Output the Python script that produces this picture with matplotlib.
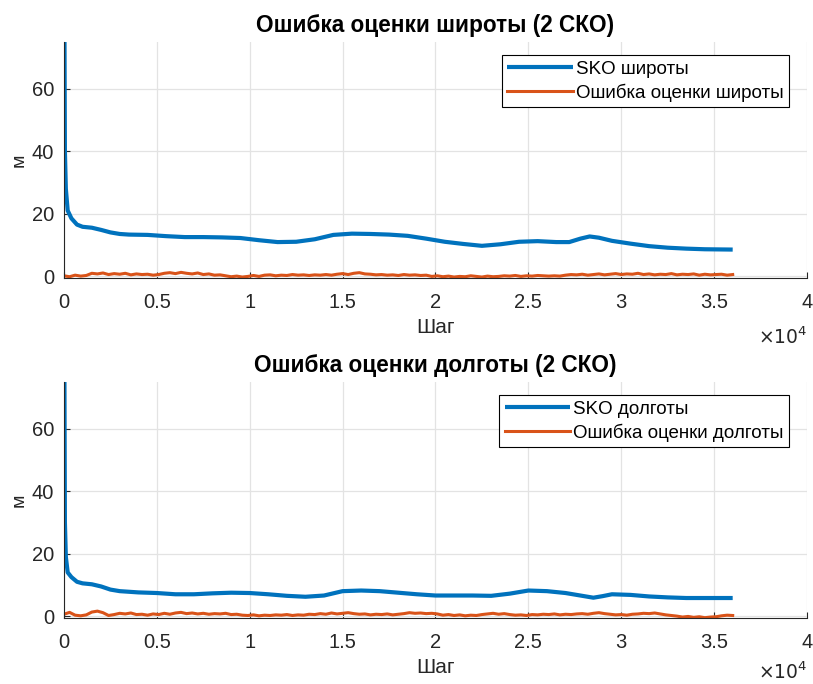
import numpy as np
import matplotlib
matplotlib.use("Agg")
import matplotlib.pyplot as plt
from matplotlib.ticker import FuncFormatter

plt.rcParams['font.family'] = ['Liberation Sans', 'DejaVu Sans']

## SKO curves: (step, value) pairs
sko_lat_x = [0, 50, 100, 200, 400, 700, 1000, 1500, 2000, 2500, 3000, 3500, 4500, 5500,
             6500, 7500, 8500, 9500, 10500, 11500, 12500, 13500, 14500, 15500, 16500,
             17500, 18500, 19500, 20500, 21500, 22500, 23500, 24500, 25500, 26500,
             27200, 27800, 28300, 28800, 29500, 30500, 31500, 32500, 33500, 34500, 36000]
sko_lat_y = [120, 40, 28, 21, 18.5, 16.5, 15.8, 15.5, 14.8, 14.0, 13.5, 13.3, 13.2, 12.8,
             12.5, 12.5, 12.4, 12.2, 11.5, 10.9, 11.0, 11.8, 13.2, 13.6, 13.5,
             13.3, 12.9, 12.0, 11.0, 10.3, 9.7, 10.2, 11.0, 11.2, 10.9,
             10.9, 12.0, 12.7, 12.3, 11.3, 10.4, 9.6, 9.1, 8.8, 8.6, 8.5]

sko_lon_x = [0, 50, 100, 200, 400, 700, 1000, 1500, 2000, 2500, 3000, 4000, 5000, 6000,
             7000, 8000, 9000, 10000, 11000, 12000, 13000, 14000, 15000, 16000, 17000,
             18000, 19000, 20000, 21000, 22000, 23000, 24000, 25000, 26000, 27000,
             28000, 28500, 29000, 29500, 30500, 31500, 32500, 33500, 34500, 36000]
sko_lon_y = [120, 30, 19, 14, 12.5, 11.0, 10.5, 10.2, 9.5, 8.5, 8.0, 7.6, 7.4, 7.0,
             7.0, 7.3, 7.5, 7.4, 7.0, 6.5, 6.2, 6.6, 8.0, 8.2, 8.0,
             7.5, 7.0, 6.6, 6.6, 6.6, 6.5, 7.2, 8.2, 8.0, 7.4,
             6.4, 5.9, 6.4, 7.0, 6.8, 6.3, 6.0, 5.8, 5.8, 5.8]

## Estimation errors, one value every 300 steps from 0 to 36000
err_lat = [0.1, -0.2, 0.3, 0.0, 0.2, 0.9, 0.7, 1.0, 0.5, 0.8, 0.6, 0.9, 0.4, 0.7, 0.5,
           0.6, 0.3, 0.5, 0.9, 1.1, 0.8, 1.2, 0.9, 0.7, 1.0, 0.5, 0.7, 0.3, 0.4, 0.1,
           -0.2, 0.0, -0.3, -0.1, 0.2, -0.1, 0.3, 0.4, 0.1, 0.3, 0.2, 0.5, 0.3, 0.4, 0.2,
           0.4, 0.3, 0.5, 0.3, 0.6, 0.8, 0.5, 0.9, 1.1, 0.7, 0.6, 0.4, 0.5, 0.3, 0.4,
           0.2, 0.5, 0.3, 0.4, 0.2, 0.3, -0.1, 0.1, -0.2, 0.0, -0.3, -0.1, -0.2, 0.1, -0.1,
           -0.3, 0.0, -0.2, -0.1, 0.1, 0.0, 0.2, -0.1, 0.1, 0.0, 0.2, 0.1, 0.0, 0.1, 0.0,
           0.3, 0.5, 0.4, 0.6, 0.3, 0.5, 0.7, 0.4, 0.6, 0.8, 0.5, 0.7, 0.6, 0.9, 0.5,
           0.7, 0.4, 0.6, 0.5, 0.8, 0.4, 0.6, 0.5, 0.7, 0.3, 0.6, 0.4, 0.5, 0.6, 0.3, 0.5]
err_lon = [0.6, 1.2, 0.3, 0.1, 0.4, 1.3, 1.6, 1.1, 0.2, 0.5, 0.9, 0.7, 1.0, 0.5, 0.6,
           0.3, 0.7, 0.5, 0.9, 0.6, 1.0, 1.2, 0.8, 1.0, 0.7, 0.9, 0.6, 0.8, 0.7, 0.9,
           0.5, 0.6, 0.3, 0.2, 0.4, 0.1, 0.3, 0.2, 0.4, 0.3, 0.5, 0.2, 0.4, 0.3, 0.6,
           0.5, 0.8, 0.6, 1.0, 0.7, 0.9, 1.1, 0.8, 0.6, 0.7, 0.4, 0.6, 0.5, 0.7, 0.4,
           0.6, 0.8, 1.1, 0.9, 1.0, 0.8, 0.9, 0.7, 0.3, 0.5, 0.2, 0.4, 0.1, 0.3, 0.2,
           0.5, 0.7, 0.9, 0.6, 0.8, 0.5, 0.3, 0.4, 0.2, 0.5, 0.4, 0.6, 0.5, 0.7, 0.4,
           0.6, 0.5, 0.7, 0.8, 0.6, 0.9, 1.1, 0.8, 0.6, 0.4, 0.5, 0.3, 0.6, 0.7, 0.9,
           0.8, 1.0, 0.7, 0.4, 0.2, 0.0, -0.3, -0.1, -0.4, -0.2, -0.5, -0.3, -0.2, 0.1, 0.3, 0.2]
err_x = np.arange(len(err_lat)) * 300

BLUE = '#0072BD'
ORANGE = '#D95319'
TXT = '#262626'

fig = plt.figure(figsize=(8.13, 6.84), dpi=100)
ax1 = fig.add_axes([0.0787, 0.5936, 0.9139, 0.345])
ax2 = fig.add_axes([0.0787, 0.0965, 0.9139, 0.345])

panels = [
    (ax1, sko_lat_x, sko_lat_y, err_lat, 'SKO широты', 'Ошибка оценки широты',
     'Ошибка оценки широты (2 СКО)', -0.25),
    (ax2, sko_lon_x, sko_lon_y, err_lon, 'SKO долготы', 'Ошибка оценки долготы',
     'Ошибка оценки долготы (2 СКО)', -0.228),
]

for ax, sx, sy, err, lab1, lab2, title, off_y in panels:
    ax.plot(sx, sy, color=BLUE, lw=3.0, label=lab1, solid_capstyle='butt')
    ax.plot(err_x, err, color=ORANGE, lw=2.2, label=lab2)
    ax.set_xlim(0, 40000)
    ax.set_ylim(-0.6, 75)
    ax.set_xticks(np.arange(0, 40001, 5000))
    ax.set_yticks([0, 20, 40, 60])
    ax.xaxis.set_major_formatter(FuncFormatter(lambda v, p: f"{v / 1e4:g}"))
    ax.grid(True, color='#e3e3e3', lw=0.9)
    ax.set_axisbelow(True)
    for s in ['top', 'right']:
        ax.spines[s].set_visible(False)
    for s in ['left', 'bottom']:
        ax.spines[s].set_color(TXT)
        ax.spines[s].set_linewidth(0.8)
    ax.tick_params(direction='in', length=4, colors=TXT, labelsize=14.5)
    ax.tick_params(axis='x', pad=11)
    ax.tick_params(axis='y', pad=7)
    ax.set_title(title, fontsize=16.3, fontweight='bold', color='black', pad=7)
    ax.set_ylabel('м', fontsize=14, color=TXT, labelpad=3)
    ax.set_xlabel('Шаг', fontsize=15, color=TXT, labelpad=4)
    ax.text(1.0, off_y, r'$\times10^4$', transform=ax.transAxes, ha='right',
            va='center', fontsize=13.5, color=TXT)
    leg = ax.legend(loc='upper right', bbox_to_anchor=(0.976, 0.945), fontsize=13.5,
                    handlelength=3.5, handletextpad=0.15, borderpad=0.3,
                    labelspacing=0.3, borderaxespad=0, fancybox=False, framealpha=1,
                    edgecolor='black')
    leg.get_frame().set_linewidth(0.8)

fig.savefig('out.png', dpi=100)
